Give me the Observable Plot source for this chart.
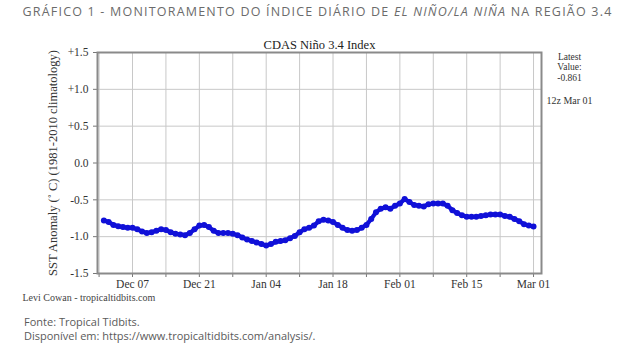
<!DOCTYPE html>
<html>
<head>
<meta charset="utf-8">
<script src="https://cdn.jsdelivr.net/npm/d3@7"></script>
<script src="https://cdn.jsdelivr.net/npm/@observablehq/plot@0.6"></script>
<style>
  html, body { margin: 0; padding: 0; background: #fff; }
  body { width: 635px; height: 356px; position: relative; overflow: hidden; }
  #title { position: absolute; left: 0; width: 635px; top: 3px; text-align: center;
    font-family: "Open Sans", sans-serif; font-size: 12.5px; letter-spacing: 1.2px; color: #6b6b6b; white-space: nowrap; }
  #chart { position: absolute; left: 0; top: 30px; }
  #chart svg text { font-family: "Liberation Serif", serif !important; }
  #caption { position: absolute; left: 24px; top: 315px; font-family: "Open Sans", sans-serif;
    font-size: 11px; line-height: 14px; color: #5a5a5a; }
</style>
</head>
<body>
<div id="title">GRÁFICO 1 - MONITORAMENTO DO ÍNDICE DIÁRIO DE <i>EL NIÑO/LA NIÑA</i> NA REGIÃO 3.4</div>
<div id="chart"></div>
<div id="caption">Fonte: Tropical Tidbits.<br>Disponível em: https://www.tropicaltidbits.com/analysis/.</div>
<script>
// ---- data ----
const dates = [
  "2020-12-01","2020-12-02","2020-12-03","2020-12-04","2020-12-05","2020-12-06","2020-12-07",
  "2020-12-08","2020-12-09","2020-12-10","2020-12-11","2020-12-12","2020-12-13","2020-12-14",
  "2020-12-15","2020-12-16","2020-12-17","2020-12-18","2020-12-19","2020-12-20","2020-12-21",
  "2020-12-22","2020-12-23","2020-12-24","2020-12-25","2020-12-26","2020-12-27","2020-12-28",
  "2020-12-29","2020-12-30","2020-12-31","2021-01-01","2021-01-02","2021-01-03","2021-01-04",
  "2021-01-05","2021-01-06","2021-01-07","2021-01-08","2021-01-09","2021-01-10","2021-01-11",
  "2021-01-12","2021-01-13","2021-01-14","2021-01-15","2021-01-16","2021-01-17","2021-01-18",
  "2021-01-19","2021-01-20","2021-01-21","2021-01-22","2021-01-23","2021-01-24","2021-01-25",
  "2021-01-26","2021-01-27","2021-01-28","2021-01-29","2021-01-30","2021-01-31","2021-02-01",
  "2021-02-02","2021-02-03","2021-02-04","2021-02-05","2021-02-06","2021-02-07","2021-02-08",
  "2021-02-09","2021-02-10","2021-02-11","2021-02-12","2021-02-13","2021-02-14","2021-02-15",
  "2021-02-16","2021-02-17","2021-02-18","2021-02-19","2021-02-20","2021-02-21","2021-02-22",
  "2021-02-23","2021-02-24","2021-02-25","2021-02-26","2021-02-27","2021-02-28","2021-03-01"
];
const anomaly = [
  -0.78,-0.80,-0.84,-0.86,-0.87,-0.88,-0.88,
  -0.90,-0.93,-0.95,-0.94,-0.92,-0.90,-0.91,
  -0.94,-0.96,-0.97,-0.98,-0.95,-0.90,-0.85,
  -0.84,-0.87,-0.92,-0.95,-0.95,-0.95,-0.96,
  -0.98,-1.01,-1.04,-1.06,-1.08,-1.10,-1.12,
  -1.10,-1.07,-1.06,-1.05,-1.02,-0.99,-0.94,
  -0.90,-0.88,-0.85,-0.79,-0.77,-0.78,-0.80,
  -0.84,-0.88,-0.91,-0.92,-0.91,-0.88,-0.84,
  -0.76,-0.67,-0.62,-0.60,-0.62,-0.58,-0.55,
  -0.49,-0.53,-0.57,-0.58,-0.59,-0.56,-0.55,
  -0.55,-0.55,-0.58,-0.64,-0.68,-0.71,-0.73,
  -0.73,-0.73,-0.72,-0.71,-0.70,-0.70,-0.70,
  -0.72,-0.73,-0.76,-0.79,-0.83,-0.85,-0.861
];
const weekTicks = ["2020-11-30","2020-12-07","2020-12-14","2020-12-21","2020-12-28","2021-01-04",
  "2021-01-11","2021-01-18","2021-01-25","2021-02-01","2021-02-08","2021-02-15","2021-02-22","2021-03-01"];
const labelTicks = ["2020-12-07","2020-12-21","2021-01-04","2021-01-18","2021-02-01","2021-02-15","2021-03-01"];
const xTickLabels = ["Dec 07","Dec 21","Jan 04","Jan 18","Feb 01","Feb 15","Mar 01"];
const yTicks = [-1.5,-1.0,-0.5,0,0.5,1.0,1.5];
const yTickLabels = ["-1.5","-1.0","-0.5","0.0","+0.5","+1.0","+1.5"];
const chartTitle = "CDAS Niño 3.4 Index";
const yLabel = "SST Anomaly (˚ C) (1981-2010 climatology)";
const latestText = "Latest\nValue:\n-0.861";
const timeText = "12z Mar 01";
const credit = "Levi Cowan - tropicaltidbits.com";

const series = dates.map((d, i) => ({date: new Date(d), value: anomaly[i]}));
const weekDates = weekTicks.map(d => new Date(d));
const labelMap = new Map(labelTicks.map((d, i) => [+new Date(d), xTickLabels[i]]));
const yLabelMap = new Map(yTicks.map((v, i) => [v, yTickLabels[i]]));

const serif = "Liberation Serif";

const chart = Plot.plot({
  width: 635,
  height: 275,
  marginTop: 22,
  marginBottom: 32,
  marginLeft: 97,
  marginRight: 94,
  style: {fontFamily: serif, fontSize: "11px", color: "#222", background: "transparent"},
  x: {type: "utc", domain: [new Date(Date.UTC(2020, 10, 29, 16)), new Date(Date.UTC(2021, 2, 2, 16))]},
  y: {domain: [-1.5, 1.5]},
  marks: [
    Plot.gridX(weekDates, {stroke: "#c8c8c8", strokeOpacity: 1, strokeWidth: 1}),
    Plot.gridY(yTicks, {stroke: "#c8c8c8", strokeOpacity: 1, strokeWidth: 1}),
    Plot.axisX(weekDates, {anchor: "bottom", tickSize: 4, tickPadding: 2, stroke: "#777",
      tickFormat: d => labelMap.get(+d) || "", fontFamily: serif, fontSize: 11.5, fill: "#333", label: null}),
    Plot.axisY(yTicks, {anchor: "left", tickSize: 4, tickPadding: 5, stroke: "#777",
      tickFormat: v => yLabelMap.get(v), fontFamily: serif, fontSize: 11.5, fill: "#333", label: null}),
    Plot.frame({stroke: "#8a8a8a", strokeWidth: 2}),
    Plot.line(series, {x: "date", y: "value", stroke: "#1010d8", strokeWidth: 4.2, curve: "linear"}),
    Plot.dot(series, {x: "date", y: "value", r: 3, fill: "#1010d8", stroke: "none"}),
    Plot.text([chartTitle], {frameAnchor: "top", dy: -8, lineAnchor: "middle", fontFamily: serif, fontSize: 12.5, fill: "#222"}),
    Plot.text([yLabel], {frameAnchor: "left", dx: -45, rotate: -90, textAnchor: "middle", fontFamily: serif, fontSize: 12.5, fill: "#333"}),
    Plot.text([latestText], {frameAnchor: "top-right", dx: 28, dy: 0, textAnchor: "middle", lineAnchor: "top",
      lineHeight: 1.1, fontFamily: serif, fontSize: 9.5, fill: "#333"}),
    Plot.text([timeText], {frameAnchor: "top-right", dx: 28, dy: 44, textAnchor: "middle", lineAnchor: "top",
      fontFamily: serif, fontSize: 10, fill: "#333"}),
    Plot.text([credit], {frameAnchor: "bottom-left", dx: -75, dy: 24, textAnchor: "start", lineAnchor: "middle",
      fontFamily: serif, fontSize: 10, fill: "#444"})
  ]
});
document.getElementById("chart").appendChild(chart);
</script>
</body>
</html>
